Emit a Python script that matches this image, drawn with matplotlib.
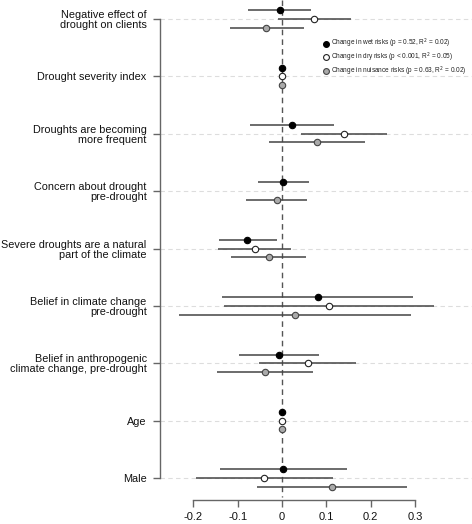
import matplotlib
matplotlib.use("Agg")
import matplotlib.pyplot as plt
from matplotlib.lines import Line2D
import numpy as np

plt.rcParams['font.family'] = ['Liberation Sans', 'DejaVu Sans']

labels = ["Negative effect of\ndrought on clients",
          "Drought severity index",
          "Droughts are becoming\nmore frequent",
          "Concern about drought\npre-drought",
          "Severe droughts are a natural\npart of the climate",
          "Belief in climate change\npre-drought",
          "Belief in anthropogenic\nclimate change, pre-drought",
          "Age",
          "Male"]

wet_est = [-0.005, 0.001, 0.023, 0.003, -0.078, 0.081, -0.006, -0.001, 0.003]
wet_lo  = [-0.076, 0.0, -0.072, -0.055, -0.143, -0.135, -0.097, -0.002, -0.141]
wet_hi  = [0.065, 0.002, 0.118, 0.061, -0.012, 0.296, 0.084, 0.0, 0.147]

dry_est = [0.073, 0.0, 0.141, np.nan, -0.062, 0.105, 0.058, 0.0, -0.041]
dry_lo  = [-0.010, -0.001, 0.044, np.nan, -0.144, -0.132, -0.052, -0.001, -0.194]
dry_hi  = [0.156, 0.001, 0.238, np.nan, 0.020, 0.343, 0.168, 0.001, 0.114]

nui_est = [-0.035, 0.0, 0.078, -0.012, -0.030, 0.029, -0.038, -0.001, 0.113]
nui_lo  = [-0.117, -0.001, -0.030, -0.081, -0.115, -0.232, -0.146, -0.002, -0.057]
nui_hi  = [0.050, 0.001, 0.187, 0.056, 0.055, 0.291, 0.069, 0.0, 0.282]

legend_labels = ["Change in wet risks (p = 0.52, R$^2$ = 0.02)",
                 "Change in dry risks (p < 0.001, R$^2$ = 0.05)",
                 "Change in nuisance risks (p = 0.63, R$^2$ = 0.02)"]
xticks = [-0.2, -0.1, 0, 0.1, 0.2, 0.3]
xticklabels = ["-0.2", "-0.1", "0", "0.1", "0.2", "0.3"]

W, H = 472, 524
fig = plt.figure(figsize=(W/100, H/100), dpi=100)
ax = fig.add_axes([160/W, (H-500)/H, (472-160)/W, 500/H])

rows = np.arange(1, len(labels)+1)
ax.set_xlim(-0.2754, 0.4289)
ax.set_ylim(9.383, 0.669)

# grid lines
for r in rows:
    ax.axhline(r, color='#dddddd', lw=0.8, ls=(0, (4, 3)), zorder=0)
ax.plot([0, 0], [0.669, 9.33], color='#555555', lw=1.0, ls=(0, (4, 3)), zorder=1, clip_on=False)

series = [
    (wet_est, wet_lo, wet_hi, -0.152, 'black', 'black'),
    (dry_est, dry_lo, dry_hi, 0.0, 'white', '#222222'),
    (nui_est, nui_lo, nui_hi, 0.152, '#aaaaaa', '#444444'),
]
for est, lo, hi, off, fc, ec in series:
    est = np.array(est, float); lo = np.array(lo, float); hi = np.array(hi, float)
    y = rows + off
    ok = ~np.isnan(est)
    ax.hlines(y[ok], lo[ok], hi[ok], color='#444444', lw=1.1, zorder=2)
    ax.plot(est[ok], y[ok], 'o', ms=4.6, mfc=fc, mec=ec, mew=0.8, zorder=3, ls='none')

ax.set_yticks(rows)
ax.set_yticklabels(labels, fontsize=7.8, linespacing=1.0, color='#111111')
ax.set_xticks(xticks)
ax.set_xticklabels(xticklabels, fontsize=8, color='#111111')

for s in ['top', 'right']:
    ax.spines[s].set_visible(False)
ax.spines['left'].set_bounds(1, 9)
ax.spines['bottom'].set_bounds(-0.2, 0.3)
for s in ['left', 'bottom']:
    ax.spines[s].set_color('#666666')
    ax.spines[s].set_linewidth(1.0)
ax.tick_params(axis='both', direction='out', length=5, width=1.0, color='#666666')
ax.tick_params(axis='y', pad=4.6)
ax.tick_params(axis='x', pad=3.5)

handles = [Line2D([], [], marker='o', ls='none', ms=4.2, mfc=fc, mec=ec, mew=0.8)
           for _, _, _, _, fc, ec in series]
leg = fig.legend(handles, legend_labels, loc='upper left',
                 bbox_to_anchor=(323/W, 1 - 37/H), frameon=False, fontsize=4.7,
                 handlelength=0.8, handletextpad=0.5, labelspacing=0.08,
                 borderpad=0, borderaxespad=0)
for t in leg.get_texts():
    t.set_color('#222222')

fig.savefig("out.png", dpi=100)
